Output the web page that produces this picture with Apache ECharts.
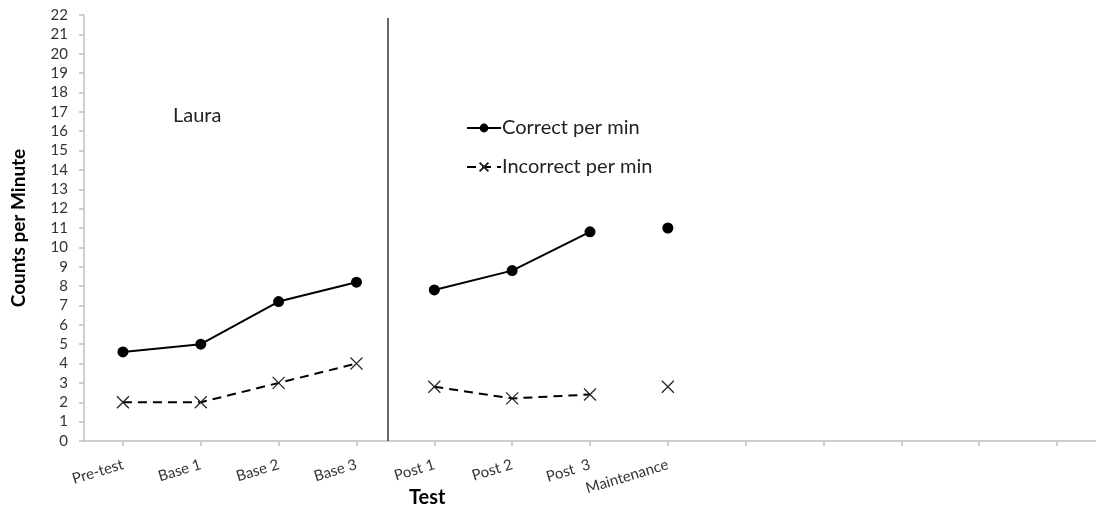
<!DOCTYPE html>
<html><head><meta charset="utf-8">
<script src="https://cdn.jsdelivr.net/npm/echarts@6/dist/echarts.min.js"></script>
<style>html,body{margin:0;padding:0;background:#fff}#c{width:1096px;height:507px}</style>
</head><body><div id="c"></div>
<script>
var categories = ['Pre-test','Base 1','Base 2','Base 3','Post 1','Post 2','Post  3','Maintenance','','','','',''];
var correctPerMin = [4.6, 5.0, 7.2, 8.2, 7.8, 8.8, 10.8, 11.0];
var incorrectPerMin = [2.0, 2.0, 3.0, 4.0, 2.8, 2.2, 2.4, 2.8];
var phases = [[0,3],[4,6],[7,7]];
var phaseChangeAt = 3.4; // position between Base 3 and Post 1
var yTicks = {min:0, max:22, interval:1};

var FONT = 'Lato, "Open Sans", sans-serif';
var xSym = 'path://M0,0L10,10M10,0L0,10';

function slice(arr, p){
  return categories.map(function(_, i){ return (i>=p[0] && i<=p[1] && i<arr.length) ? arr[i] : null; });
}
var series = [];
phases.forEach(function(p, k){
  series.push({
    name:'Correct per min', type:'line', xAxisIndex:0, data: slice(correctPerMin,p),
    symbol:'circle', symbolSize:11, connectNulls:false,
    lineStyle:{color:'#000', width:2}, itemStyle:{color:'#000'}, z:3
  });
  series.push({
    name:'Incorrect per min', type:'line', xAxisIndex:0, data: slice(incorrectPerMin,p),
    symbol:xSym, symbolSize:12, connectNulls:false,
    lineStyle:{color:'#000', width:2, type:[9,6]},
    itemStyle:{color:'#000', borderColor:'#222', borderWidth:1.2}, z:3
  });
});
series.push({
  type:'line', xAxisIndex:1, data:[], silent:true,
  markLine:{symbol:'none', silent:true, label:{show:false},
    lineStyle:{color:'#333', width:1.5, type:'solid'},
    data:[[{coord:[phaseChangeAt,0]},{coord:[phaseChangeAt,21.85]}]]}
});

var chart = echarts.init(document.getElementById('c'), null, {renderer:'canvas'});
chart.setOption({
  animation:false,
  backgroundColor:'#fff',
  textStyle:{fontFamily:FONT},
  title:[
    {text:'Laura', left:168, top:101, padding:5, textStyle:{fontFamily:FONT, fontSize:20, fontWeight:'normal', color:'#222'}},
    {text:'Test', left:404, top:483, textStyle:{fontFamily:FONT, fontSize:20, fontWeight:'bold', color:'#000'}}
  ],
  legend:{
    orient:'vertical', left:461, top:113, itemWidth:34, itemHeight:11, itemGap:19,
    data:['Correct per min','Incorrect per min'],
    textStyle:{fontFamily:FONT, fontSize:20, color:'#222', padding:[0,0,0,-4]}
  },
  grid:{left:84, top:15, right:-11, bottom:66, containLabel:false},
  xAxis:[{
    type:'category', data:categories, boundaryGap:true,
    axisLine:{onZero:false, lineStyle:{color:'#c0c0c0', width:1.5}},
    axisTick:{show:true, alignWithLabel:true, length:5, lineStyle:{color:'#c0c0c0', width:1.5}},
    axisLabel:{interval:0, rotate:17, margin:23, fontFamily:FONT, fontSize:15, color:'#333'},
    splitLine:{show:false}
  },{
    type:'value', min:-0.5, max:categories.length-0.5, show:false
  }],
  yAxis:{
    type:'value', min:yTicks.min, max:yTicks.max, interval:yTicks.interval,
    name:'Counts per Minute', nameLocation:'middle', nameGap:56,
    nameTextStyle:{fontFamily:FONT, fontSize:19, fontWeight:'bold', color:'#000'},
    axisLine:{show:true, onZero:false, lineStyle:{color:'#c0c0c0', width:1.5}},
    axisTick:{show:true, length:5, lineStyle:{color:'#c0c0c0', width:1.5}},
    axisLabel:{fontFamily:FONT, fontSize:15, color:'#333', margin:16},
    splitLine:{show:false}
  },
  series:series
});
</script></body></html>
